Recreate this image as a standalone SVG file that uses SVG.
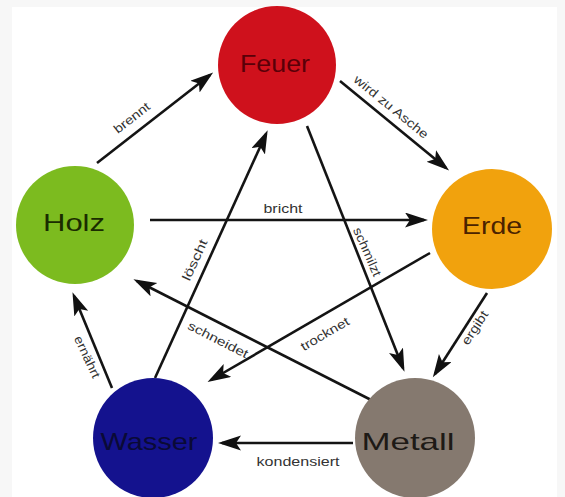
<svg xmlns="http://www.w3.org/2000/svg" width="565" height="497" viewBox="0 0 565 497">
<style>
.node text{font-family:"Liberation Sans",Arial,sans-serif;font-size:24px;text-anchor:middle}
.lbl{font-family:"Liberation Sans",Arial,sans-serif;font-size:12.5px;fill:#333;text-anchor:middle}
.edge{stroke:#141414;stroke-width:2.6;fill:none;marker-end:url(#ah)}
</style>
<defs>
<marker id="ah" markerUnits="userSpaceOnUse" markerWidth="24" markerHeight="16" refX="19" refY="7.5" orient="auto">
<path d="M0,0 L23,7.5 L0,15 L5,7.5 Z" fill="#111"/>
</marker>
</defs>
<rect width="565" height="497" fill="#f7f7f7"/>
<rect x="12" y="7" width="545" height="490" fill="#ffffff"/>

<g id="edges">
<line class="edge" x1="97" y1="163" x2="210" y2="75"/>
<line class="edge" x1="340" y1="81" x2="446" y2="168"/>
<line class="edge" x1="150" y1="220" x2="424" y2="220"/>
<line class="edge" x1="307" y1="126" x2="403" y2="368"/>
<line class="edge" x1="155" y1="378" x2="266" y2="134"/>
<line class="edge" x1="383" y1="406" x2="137" y2="281"/>
<line class="edge" x1="430" y1="253" x2="211" y2="380"/>
<line class="edge" x1="487" y1="293" x2="435" y2="374"/>
<line class="edge" x1="353" y1="443" x2="222" y2="443"/>
<line class="edge" x1="112" y1="388" x2="74" y2="296"/>
<g>
<text class="lbl" transform="translate(132,118) rotate(-37.8)" y="4" textLength="42" lengthAdjust="spacingAndGlyphs">brennt</text>
<text class="lbl" transform="translate(391,107) rotate(39.3)" y="4" textLength="92" lengthAdjust="spacingAndGlyphs">wird zu Asche</text>
<text class="lbl" transform="translate(283,209)" y="4" textLength="39" lengthAdjust="spacingAndGlyphs">bricht</text>
<text class="lbl" transform="translate(367,252) rotate(66)" y="4" textLength="52" lengthAdjust="spacingAndGlyphs">schmilzt</text>
<text class="lbl" transform="translate(195,260) rotate(-65.5)" y="4" textLength="44" lengthAdjust="spacingAndGlyphs">löscht</text>
<text class="lbl" transform="translate(218,340) rotate(27)" y="4" textLength="66" lengthAdjust="spacingAndGlyphs">schneidet</text>
<text class="lbl" transform="translate(325,334) rotate(-30.5)" y="4" textLength="54" lengthAdjust="spacingAndGlyphs">trocknet</text>
<text class="lbl" transform="translate(475,328) rotate(-57)" y="4" textLength="38" lengthAdjust="spacingAndGlyphs">ergibt</text>
<text class="lbl" transform="translate(298,462)" y="4" textLength="83" lengthAdjust="spacingAndGlyphs">kondensiert</text>
<text class="lbl" transform="translate(87,357) rotate(65)" y="4" textLength="45" lengthAdjust="spacingAndGlyphs">ernährt</text>
</g>
</g>

<g id="feuer" class="node">
<circle cx="277" cy="65" r="59" fill="#cf111c"/>
<text x="275" y="72" fill="#5a0008" textLength="70" lengthAdjust="spacingAndGlyphs">Feuer</text>
</g>
<g id="holz" class="node">
<circle cx="75" cy="225" r="59" fill="#7cbb1f"/>
<text x="74" y="231" fill="#1a2c00" textLength="62" lengthAdjust="spacingAndGlyphs">Holz</text>
</g>
<g id="erde" class="node">
<circle cx="492" cy="229" r="60" fill="#f1a20d"/>
<text x="492" y="234" fill="#4a2300" textLength="60" lengthAdjust="spacingAndGlyphs">Erde</text>
</g>
<g id="wasser" class="node">
<circle cx="153" cy="438" r="60" fill="#14128e"/>
<text x="149" y="450" fill="#0a0a36" textLength="97" lengthAdjust="spacingAndGlyphs">Wasser</text>
</g>
<g id="metall" class="node">
<circle cx="415" cy="438" r="60" fill="#85796f"/>
<text x="408" y="450" fill="#1e1a16" textLength="93" lengthAdjust="spacingAndGlyphs">Metall</text>
</g>
</svg>
